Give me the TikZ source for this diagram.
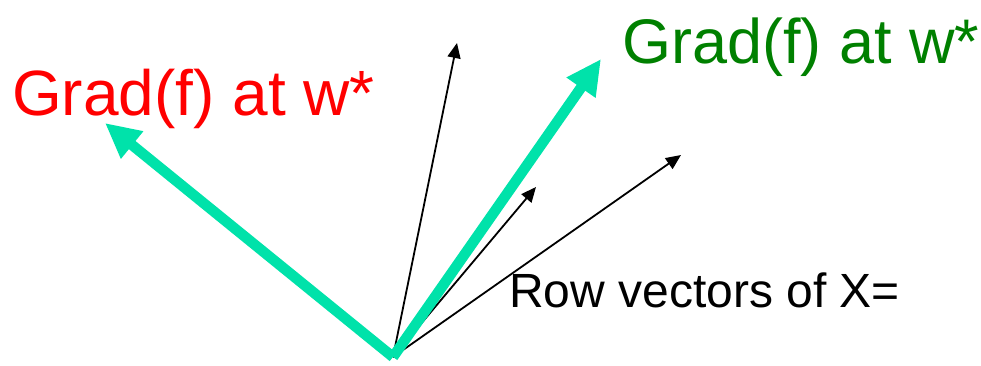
\documentclass[tikz,border=0pt]{standalone}
\usepackage{fontspec}
\setmainfont{Liberation Sans}
\usetikzlibrary{arrows.meta}
\definecolor{teal2}{RGB}{0,226,170}
\definecolor{dgreen}{RGB}{0,128,0}
\tikzset{
  grad/.style={draw=teal2, line width=10.5pt, -{Triangle[length=35pt 0,width=33pt 0]}},
  rowvec/.style={draw=black, line width=1.8pt, -{Triangle[length=15pt 0,width=13pt 0]}},
  lbl/.style={inner sep=0pt, anchor=base west}
}
\begin{document}
\begin{tikzpicture}[x=1pt,y=-1pt]
\useasboundingbox (0,0) rectangle (981,365);
\coordinate (O) at (393,357);
\coordinate (g1) at (105,123);
\coordinate (g2) at (601,59);
\coordinate (r1) at (457,43);
\coordinate (r2) at (536,187);
\coordinate (r3) at (681,155);
\draw[rowvec] (O) -- (r1);
\draw[rowvec] (O) -- (r2);
\draw[rowvec] (O) -- (r3);
\draw[grad] (O) -- (g1);
\draw[grad] (O) -- (g2);
\node[lbl, text=red, font=\fontsize{64}{64}\selectfont] (redlbl) at (12,115) {Grad(f) at w*};
\node[lbl, text=dgreen, font=\fontsize{63}{63}\selectfont] (greenlbl) at (622,63) {Grad(f) at w*};
\node[lbl, text=black, font=\fontsize{48}{48}\selectfont] (rowlbl) at (509,307) {Row vectors of X=};
\end{tikzpicture}
\end{document}
